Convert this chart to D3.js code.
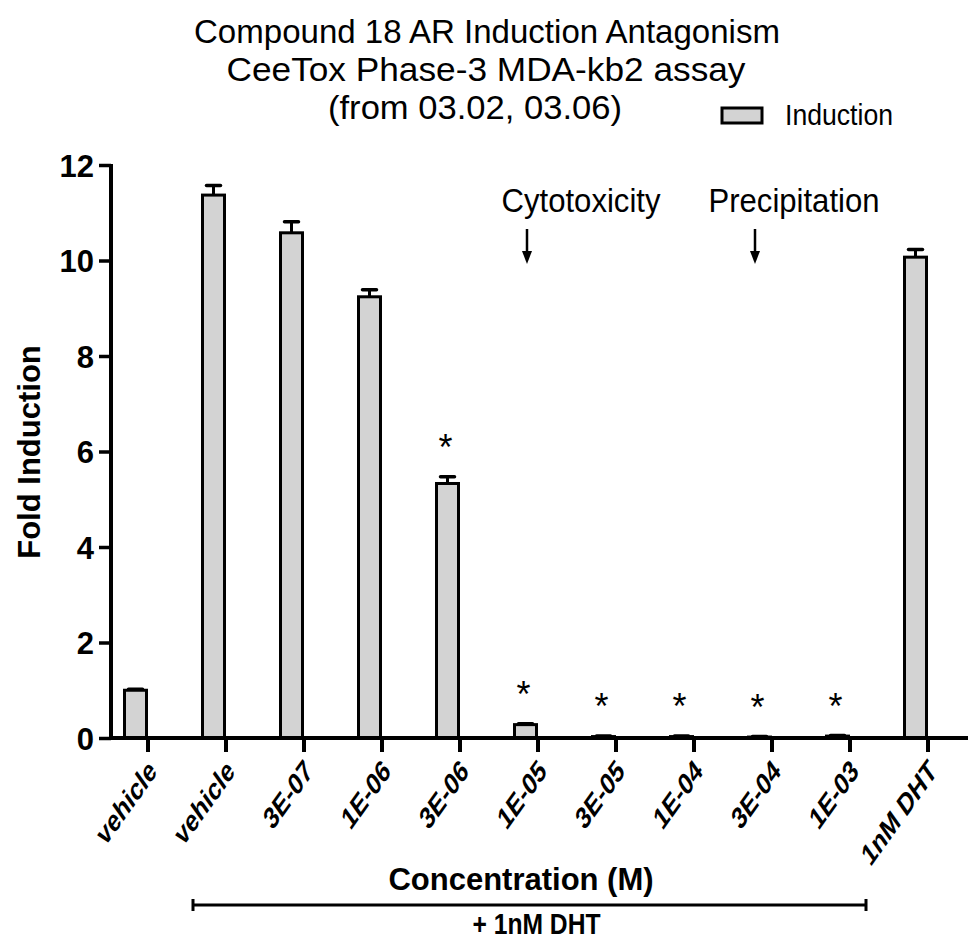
<!DOCTYPE html>
<html><head><meta charset="utf-8">
<script src="https://cdn.jsdelivr.net/npm/d3@7"></script>
<style>
html,body{margin:0;padding:0;background:#fff;}
svg text{font-family:"Liberation Sans",Arial,sans-serif;fill:#000;}
</style></head>
<body><svg id="c" width="972" height="939"></svg>
<script>
const categories = ["vehicle","vehicle","3E-07","1E-06","3E-06","1E-05","3E-05","1E-04","3E-04","1E-03","1nM DHT"];
const values = [1.0, 11.37, 10.58, 9.24, 5.33, 0.28, 0.03, 0.03, 0.02, 0.04, 10.07];
const errors = [0.02, 0.2, 0.23, 0.15, 0.14, 0.02, 0.01, 0.01, 0.01, 0.01, 0.16];
const significant = [false,false,false,false,true,true,true,true,true,true,false];
const yTicks = [0,2,4,6,8,10,12];
const titleLines = ["Compound 18 AR Induction Antagonism","CeeTox Phase-3 MDA-kb2 assay","(from 03.02, 03.06)"];
const annotations = [{label:"Cytotoxicity", index:5}, {label:"Precipitation", index:8}];
const seriesName = "Induction";
const bracketRange = [1, 9];

const svg = d3.select("#c");
const x = d3.scaleBand().domain(d3.range(categories.length)).range([109, 967]).padding(0);
const y = d3.scaleLinear().domain([0, 12]).range([738, 165]);
const cx = i => x(i) + x.bandwidth()/2;
const barW = 25;

// title (tall, slightly narrow glyphs)
const tl = [ {t:titleLines[0], cx:487, y:43, w:586}, {t:titleLines[1], cx:486, y:81, w:519}, {t:titleLines[2], cx:475, y:119, w:294} ];
svg.selectAll("text.title").data(tl).join("text").attr("class","title")
  .attr("x", d=>d.cx - d.w/2).attr("y", d=>d.y)
  .attr("textLength", d=>d.w).attr("lengthAdjust","spacingAndGlyphs")
  .style("font-size","34px").text(d=>d.t);

// legend
svg.append("rect").attr("x",722).attr("y",108).attr("width",40).attr("height",15)
  .attr("fill","#d3d3d3").attr("stroke","#000").attr("stroke-width",3);
svg.append("text").attr("x",785).attr("y",125).attr("textLength",108).attr("lengthAdjust","spacingAndGlyphs")
  .style("font-size","30px").text(seriesName);

// bars
const g = svg.append("g");
g.selectAll("rect.bar").data(values).join("rect").attr("class","bar")
  .attr("x",(d,i)=>cx(i)-barW+1.5).attr("width",barW-3)
  .attr("y",d=>y(d)).attr("height",d=>Math.max(0,y(0)-y(d)))
  .attr("fill","#d3d3d3").attr("stroke","#000").attr("stroke-width",3);

// error bars
g.selectAll("line.err").data(values).join("line").attr("class","err")
  .attr("x1",(d,i)=>cx(i)-barW/2).attr("x2",(d,i)=>cx(i)-barW/2)
  .attr("y1",d=>y(d)).attr("y2",(d,i)=>y(d+errors[i]))
  .attr("stroke","#000").attr("stroke-width",3);
g.selectAll("line.cap").data(values).join("line").attr("class","cap")
  .attr("x1",(d,i)=>cx(i)-barW/2-7).attr("x2",(d,i)=>cx(i)-barW/2+7)
  .attr("y1",(d,i)=>y(d+errors[i])).attr("y2",(d,i)=>y(d+errors[i]))
  .attr("stroke","#000").attr("stroke-width",3.5).attr("stroke-linecap","round");

// asterisks
g.selectAll("text.star").data(values.map((v,i)=>({v,i})).filter(d=>significant[d.i])).join("text").attr("class","star")
  .attr("x",d=>cx(d.i)-barW/2-2).attr("y",d=>y(d.v+errors[d.i])-17)
  .attr("text-anchor","middle").style("font-size","36px").text("*");

// y axis
const ya = svg.append("g").attr("transform","translate(111,0)")
  .call(d3.axisLeft(y).tickValues(yTicks).tickSize(12).tickSizeOuter(0).tickPadding(5));
ya.select(".domain").attr("stroke-width",4).attr("d",`M0,${y(12)-1}V${y(0)+2}`);
ya.selectAll(".tick line").attr("stroke-width",3.5);
ya.selectAll(".tick text").style("font-size","31px").style("font-weight","bold").attr("font-family",null).attr("dy","0.36em");

// x axis
const xa = svg.append("g").attr("transform","translate(0,738)")
  .call(d3.axisBottom(x).tickSize(14).tickSizeOuter(0).tickFormat(i=>categories[i]));
xa.select(".domain").attr("stroke-width",4).attr("d","M109,0H968");
xa.selectAll(".tick line").attr("stroke-width",4);
xa.selectAll(".tick text").style("font-size","22px").style("font-weight","bold").attr("font-family",null)
  .attr("text-anchor","end").attr("dy",null).attr("y",0)
  .attr("transform","translate(10,35) scale(1,1.4) rotate(-45)");

// y title
svg.append("text").attr("transform","translate(40,452) rotate(-90)").attr("text-anchor","middle")
  .style("font-size","31px").style("font-weight","bold").text("Fold Induction");

// x title
svg.append("text").attr("x",521).attr("y",890).attr("text-anchor","middle")
  .style("font-size","31px").style("font-weight","bold").text("Concentration (M)");

// bracket
const bx0 = x(bracketRange[0]) + 6, bx1 = x(bracketRange[1]) + x.bandwidth() - 23;
svg.append("path").attr("d",`M${bx0},899V911M${bx0},905H${bx1}M${bx1},899V911`)
  .attr("fill","none").attr("stroke","#000").attr("stroke-width",3);
svg.append("text").attr("x",(bx0+bx1)/2 + 7 - 64).attr("y",934)
  .attr("textLength",128).attr("lengthAdjust","spacingAndGlyphs")
  .style("font-size","29px").style("font-weight","bold").text("+ 1nM DHT");

// annotations
const labelDx = [54, 39];
const arrowDx = [1.5, -4.5];
const labelW = [159, 171];
annotations.forEach((a,k)=>{
  const ax = cx(a.index)-barW/2 + arrowDx[k];
  svg.append("text").attr("x",ax+labelDx[k]-labelW[k]/2).attr("y",212)
    .attr("textLength",labelW[k]).attr("lengthAdjust","spacingAndGlyphs")
    .style("font-size","33px").text(a.label);
  svg.append("line").attr("x1",ax).attr("x2",ax).attr("y1",229).attr("y2",254)
    .attr("stroke","#000").attr("stroke-width",2.5);
  svg.append("path").attr("d",`M${ax-5},251L${ax+5},251L${ax},264Z`).attr("fill","#000");
});
</script></body></html>
